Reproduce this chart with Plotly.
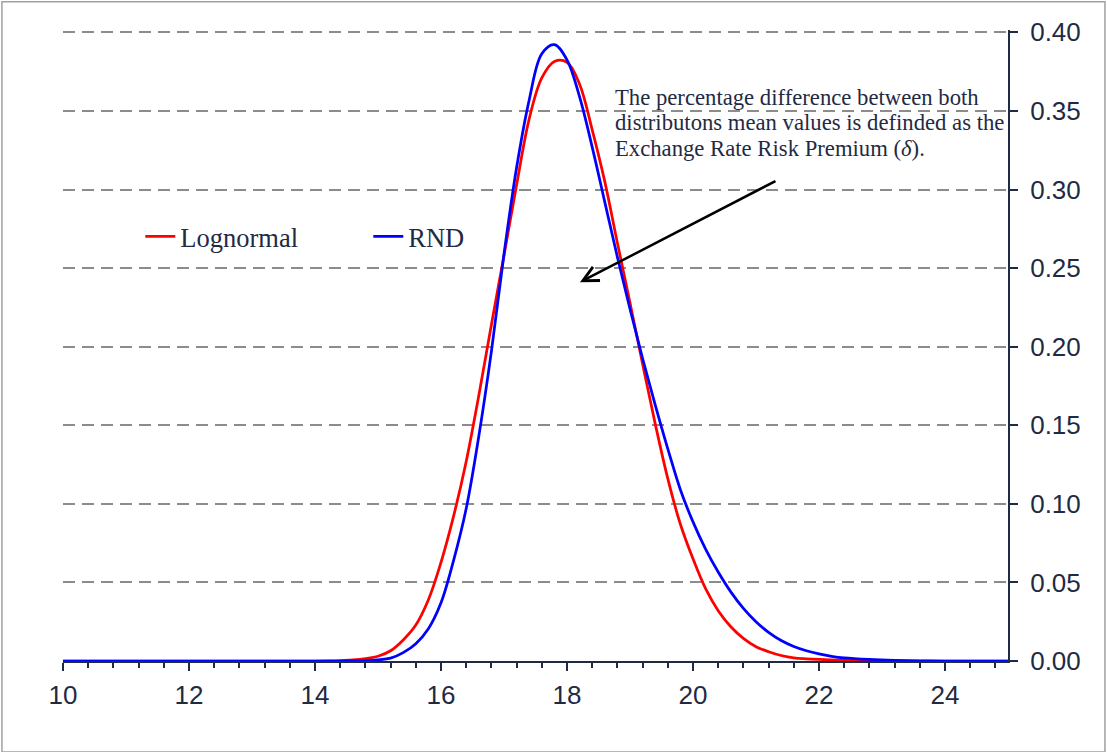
import plotly.graph_objects as go

# ---- data ----
series_names = ["Lognormal", "RND"]

x_lognormal = [10, 12, 14.0, 14.2, 14.4, 14.6, 14.8, 15.0, 15.2, 15.4, 15.6, 15.8,
               16.0, 16.2, 16.4, 16.6, 16.8, 17.0, 17.2, 17.4, 17.6, 17.8,
               18.0, 18.2, 18.4, 18.6, 18.8, 19.0, 19.2, 19.4, 19.6, 19.8,
               20.0, 20.2, 20.4, 20.6, 20.8, 21.0, 21.2, 21.4, 21.6, 21.8,
               22.0, 22.4, 22.8, 23.2, 25]
y_lognormal = [0, 0, 0, 0.0001, 0.0003, 0.0007, 0.0015, 0.003, 0.0065, 0.0134, 0.0229, 0.039,
               0.0628, 0.0922, 0.127, 0.169, 0.214, 0.258, 0.303, 0.345, 0.371, 0.3815,
               0.381, 0.367, 0.338, 0.305, 0.266, 0.228, 0.189, 0.151, 0.116, 0.087,
               0.065, 0.046, 0.032, 0.0218, 0.0144, 0.0091, 0.0059, 0.0035, 0.002, 0.0014,
               0.001, 0.0004, 0.0001, 0, 0]

x_rnd = [10, 12, 14.0, 14.4, 14.6, 14.8, 15.0, 15.2, 15.4, 15.6, 15.8,
         16.0, 16.2, 16.4, 16.6, 16.8, 17.0, 17.2, 17.4, 17.6, 17.8,
         18.0, 18.2, 18.4, 18.6, 18.8, 19.0, 19.2, 19.4, 19.6, 19.8,
         20.0, 20.2, 20.4, 20.6, 20.8, 21.0, 21.2, 21.4, 21.6, 21.8,
         22.0, 22.2, 22.4, 22.8, 23.2, 23.6, 24.0, 25]
y_rnd = [0, 0, 0, 0, 0.0001, 0.0003, 0.0007, 0.0018, 0.0053, 0.011, 0.0205,
         0.037, 0.064, 0.097, 0.143, 0.197, 0.259, 0.314, 0.357, 0.3864, 0.3922,
         0.3825, 0.3589, 0.327, 0.292, 0.257, 0.224, 0.1925, 0.163, 0.135, 0.109,
         0.0885, 0.0712, 0.0566, 0.044, 0.0335, 0.025, 0.0182, 0.013, 0.0092, 0.0065,
         0.0045, 0.003, 0.002, 0.001, 0.0004, 0.0001, 0, 0]

x_range = [10, 25]
y_range = [0, 0.4015]

annotation_lines = [
    "The percentage difference between both",
    "distributons mean values is definded as the",
    "Exchange Rate Risk Premium (<i>δ</i>).",
]

NAVY = "#1F2A44"
GRID = "#8C8C8C"

fig = go.Figure()
fig.add_trace(go.Scatter(x=x_lognormal, y=y_lognormal, mode="lines", name=series_names[0],
                         line=dict(color="#FF0000", width=2.75, shape="spline", smoothing=1)))
fig.add_trace(go.Scatter(x=x_rnd, y=y_rnd, mode="lines", name=series_names[1],
                         line=dict(color="#0000FF", width=2.75, shape="spline", smoothing=1)))

fig.update_layout(
    width=1107, height=752,
    margin=dict(l=63, r=99, t=30, b=91),
    plot_bgcolor="white", paper_bgcolor="white",
    font=dict(family="Liberation Sans, Arial", color=NAVY),
    legend=dict(orientation="h", x=0.0818, y=0.6725, xanchor="left", yanchor="middle",
                font=dict(family="Liberation Serif, Times New Roman", size=26.5, color=NAVY),
                bgcolor="rgba(0,0,0,0)", entrywidth=183, entrywidthmode="pixels",
                itemwidth=30),
    xaxis=dict(range=x_range, tickmode="linear", tick0=10, dtick=2,
               ticks="outside", ticklen=8, tickwidth=2, tickcolor=NAVY,
               showline=True, linecolor=NAVY, linewidth=2,
               showgrid=False, zeroline=False,
               tickfont=dict(size=26, color=NAVY), ticklabelstandoff=2,
               minor=dict(tick0=10, dtick=0.4, ticks="outside", ticklen=5,
                          tickwidth=1.5, tickcolor=NAVY, showgrid=False)),
    yaxis=dict(range=y_range, side="right", tickmode="linear", tick0=0, dtick=0.05,
               tickformat=".2f", ticks="outside", ticklen=8, tickwidth=2, tickcolor=NAVY,
               showline=True, linecolor=NAVY, linewidth=2,
               showgrid=True, gridcolor=GRID, gridwidth=2, griddash="12px,7px",
               zeroline=False, tickfont=dict(size=26, color=NAVY), ticklabelstandoff=7),
)

# outer chart border
fig.add_shape(type="rect", xref="paper", yref="paper",
              x0=-0.0646, x1=1.1026, y0=-0.1441, y1=1.0446,
              line=dict(color="#A0A0A0", width=1.5), layer="below")

# annotation text
text_y = [0.3585, 0.3426, 0.3260]
for line, yy in zip(annotation_lines, text_y):
    fig.add_annotation(x=18.73, y=yy, xref="x", yref="y", text=line, showarrow=False,
                       xanchor="left", yanchor="middle", align="left",
                       font=dict(family="Liberation Serif, Times New Roman", size=22.7, color=NAVY))

# arrow
fig.add_annotation(x=18.206, y=0.241, ax=21.333, ay=0.3059, xref="x", yref="y",
                   axref="x", ayref="y", text="", showarrow=True,
                   arrowhead=5, arrowsize=1.2, arrowwidth=2.5, arrowcolor="black", standoff=0)

fig.write_html("out.html", config={"displayModeBar": False},
               post_script="document.body.style.margin='0';")
